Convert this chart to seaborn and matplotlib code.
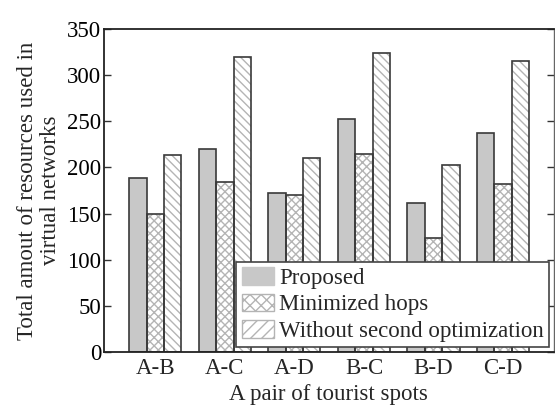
import matplotlib
matplotlib.use("Agg")
import matplotlib.pyplot as plt
from matplotlib.patches import Patch, Rectangle
import numpy as np
import pandas as pd
import seaborn as sns

pairs = ["A-B", "A-C", "A-D", "B-C", "B-D", "C-D"]
methods = ["Proposed", "Minimized hops", "Without second optimization"]
proposed = [189, 220, 172, 252, 161, 237]
minimized_hops = [150, 184, 170, 214, 124, 182]
without_second = [213, 320, 210, 324, 203, 315]
y_ticks = [0, 50, 100, 150, 200, 250, 300, 350]

df = pd.DataFrame({
    "pair": pairs * 3,
    "method": [methods[0]] * 6 + [methods[1]] * 6 + [methods[2]] * 6,
    "value": proposed + minimized_hops + without_second,
})

sns.set_theme(style="white")
plt.rcParams["font.family"] = ["Liberation Serif", "DejaVu Serif"]
plt.rcParams["hatch.linewidth"] = 1.0

fig = plt.figure(figsize=(5.55, 4.07), dpi=100)
ax = fig.add_axes([0.187, 0.135, 0.811, 0.794])

faces = ["#c8c8c8", "white", "white"]
hatches = [None, "xxxx", "\\\\\\\\"]
sns.barplot(data=df, x="pair", y="value", hue="method", order=pairs,
            hue_order=methods, palette=faces, width=0.75, saturation=1,
            legend=False, ax=ax)

edge_dark = "#3a3a3a"
for cont, hatch in zip(ax.containers, hatches):
    for bar in cont:
        bar.set_edgecolor("#b4b4b4")
        bar.set_linewidth(0)
        if hatch:
            bar.set_hatch(hatch)
        outline = Rectangle(bar.get_xy(), bar.get_width(), bar.get_height(),
                            facecolor="none", edgecolor=edge_dark, linewidth=1.2,
                            zorder=bar.get_zorder() + 0.1)
        ax.add_patch(outline)

fs = 16.5
ax.set_xlim(-0.74, 5.73)
ax.set_ylim(0, 350)
ax.set_yticks(y_ticks)
ax.tick_params(axis="y", direction="in", length=5, width=1, colors="#333333",
               labelsize=fs, labelcolor="black", right=True, left=True, pad=2)
ax.tick_params(axis="x", length=0, labelsize=fs, pad=4)
for s in ["left", "bottom", "top"]:
    ax.spines[s].set_color("#222222")
    ax.spines[s].set_linewidth(1.3)
ax.spines["right"].set_color("#666666")
ax.spines["right"].set_linewidth(1.0)

ax.set_xlabel("A pair of tourist spots", fontsize=fs, labelpad=4)
ax.set_ylabel("Total amout of resources used in\nvirtual networks", fontsize=fs,
              labelpad=4, linespacing=1.15)

handles = [
    Patch(facecolor="#c8c8c8", edgecolor="#c8c8c8", label=methods[0]),
    Patch(facecolor="white", edgecolor="#b4b4b4", hatch="xxx", label=methods[1]),
    Patch(facecolor="white", edgecolor="#b4b4b4", hatch="///", label=methods[2]),
]
leg = ax.legend(handles=handles, loc="lower right", fontsize=fs, frameon=True,
                fancybox=False, framealpha=1, edgecolor="#444444",
                borderaxespad=0.2, handlelength=1.4, handleheight=0.8,
                handletextpad=0.2, labelspacing=0.2, borderpad=0.25)
leg.get_frame().set_linewidth(1.2)

fig.savefig("out.png", dpi=100)
